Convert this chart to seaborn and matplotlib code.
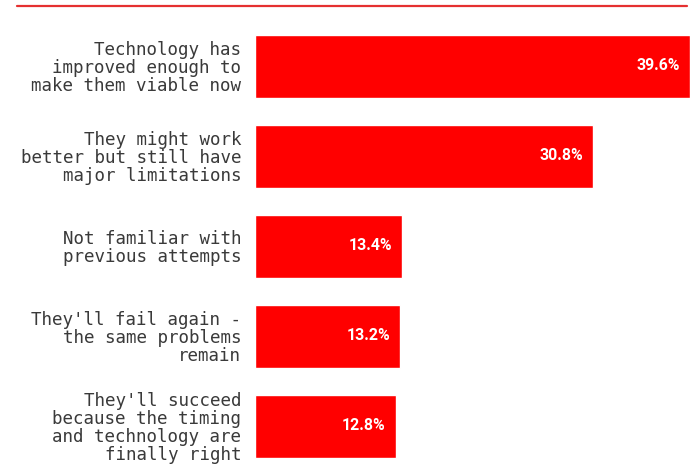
import matplotlib
matplotlib.use("Agg")
import matplotlib.pyplot as plt
from matplotlib.lines import Line2D
import seaborn as sns
import pandas as pd

categories = [
    "Technology has\nimproved enough to\nmake them viable now",
    "They might work\nbetter but still have\nmajor limitations",
    "Not familiar with\nprevious attempts",
    "They'll fail again -\nthe same problems\nremain",
    "They'll succeed\nbecause the timing\nand technology are\nfinally right",
]
shares = [39.6, 30.8, 13.4, 13.2, 12.8]

df = pd.DataFrame({"answer": categories, "share": shares})

sns.set_theme(style="white")
fig = plt.figure(figsize=(6.91, 4.72), dpi=100)
W, H = 691, 472
ax = fig.add_axes([255 / W, 1 - 471 / H, 435 / W, (471 - 21) / H])

sns.barplot(data=df, x="share", y="answer", orient="h", color="#ff0000",
            saturation=1, width=0.70, ax=ax)

ax.set_xlim(0, 39.6)
ax.set_ylim(4.5, -0.5)
sns.despine(ax=ax, left=True, bottom=True)
ax.set_xticks([])
ax.set_xlabel("")
ax.set_ylabel("")
ax.tick_params(axis="y", length=0, pad=10)
for lab in ax.get_yticklabels():
    lab.set_fontfamily("DejaVu Sans Mono")
    lab.set_fontsize(12.65)
    lab.set_color("#3a3a3a")
    lab.set_linespacing(1.0)
    lab.set_ha("right")

for i, v in enumerate(shares):
    ax.annotate(f"{v}%", xy=(v, i), xytext=(-10, 0), textcoords="offset pixels",
                ha="right", va="center", color="white", fontsize=11.4,
                fontweight="bold", fontfamily="Roboto")

fig.add_artist(Line2D([17 / W, 687 / W], [1 - 5.5 / H, 1 - 5.5 / H],
                      transform=fig.transFigure, color="#e53030", lw=1.6))

fig.savefig("out.png", dpi=100)
